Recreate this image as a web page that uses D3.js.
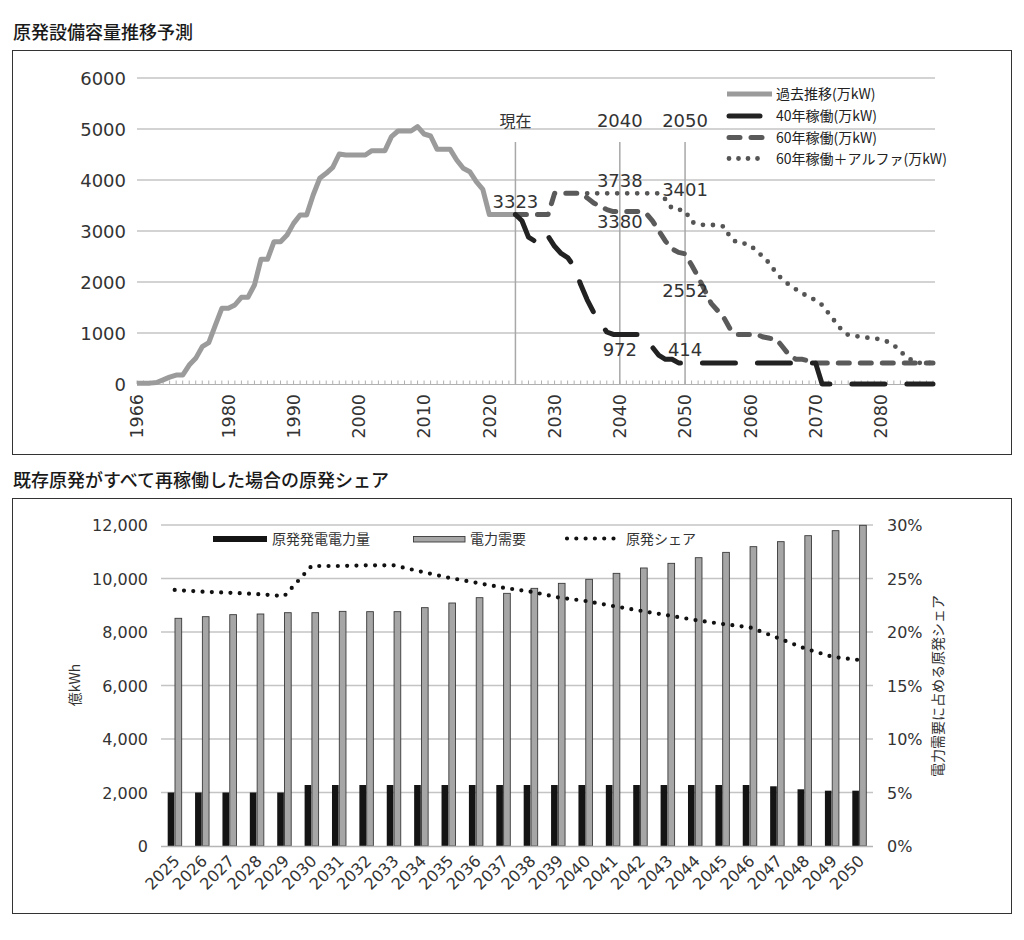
<!DOCTYPE html>
<html><head><meta charset="utf-8">
<script src="https://cdn.jsdelivr.net/npm/d3@7"></script>
<style>
body{margin:0;background:#fff;}
svg text{font-family:"DejaVu Sans","Noto Sans CJK JP",sans-serif;fill:#333;}
svg text.jp{font-family:"Noto Sans CJK JP",sans-serif;}
</style></head><body>
<svg id="c" width="1024" height="940"></svg>
<script>
// ===== Chart 1: 原発設備容量推移予測 =====
const title1 = "原発設備容量推移予測";
const histStart = 1966;
const histValues = [17,17,17,30,80,135,176,176,372,503,732,810,1150,1484,1484,1549,1699,1699,1941,2444,
  2444,2791,2791,2922,3150,3314,3314,3706,4033,4131,4248,4510,4490,4490,4490,4490,4575,4575,4575,4850,
  4961,4961,4961,5046,4902,4863,4601,4601,4601,4392,4229,4163,3967,3817,3323,3323,3323,3323,3323];
const y40Start = 2024;
const y40Values = [3323,3200,2880,2800,2720,2900,2700,2560,2480,2300,1950,1650,1400,1200,1020,972,972,972,972,972,
  896,720,560,484,484,414,414,414,414,414,414,414,414,414,414,414,414,414,414,414,
  414,414,414,414,414,414,414,0,0,0,0,0,0,0,0,0,0,0,0,0,0,0,0,0,0];
const y60Start = 2024;
const y60Values = [3323,3323,3323,3323,3323,3323,3738,3738,3738,3738,3738,3650,3550,3480,3420,3380,3380,3380,3380,3380,
  3350,3200,3000,2800,2650,2580,2552,2333,2104,1843,1582,1438,1288,1059,972,972,972,972,920,896,
  880,720,560,484,484,450,414,414,414,414,414,414,414,414,414,414,414,414,414,414,414,414,414,414,414];
const yAlphaStart = 2035;
const yAlphaValues = [3738,3738,3738,3738,3738,3738,3738,3738,3738,3738,3738,3738,3620,3440,3420,3401,3180,3130,3118,3118,
  3118,3085,2857,2771,2758,2725,2595,2497,2353,2170,2040,1941,1856,1778,1699,1647,1549,1386,1222,1059,
  961,941,928,908,896,876,830,765,634,536,438,414,414,414];
const yTicks1 = [0,1000,2000,3000,4000,5000,6000];
const xLabelYears1 = [1966,1980,1990,2000,2010,2020,2030,2040,2050,2060,2070,2080];
const markerYears = [2024,2040,2050];
const markerLabels = ["現在","2040","2050"];
const dataLabelText = ["3323","3738","3380","3401","2552","972","414"];
const dataLabelYear = [2024,2040,2040,2050,2050,2040,2050];
const dataLabelValue = [3323,3738,3380,3401,2552,972,414];
const legend1 = ["過去推移(万kW)","40年稼働(万kW)","60年稼働(万kW)","60年稼働＋アルファ(万kW)"];

// ===== Chart 2: 既存原発がすべて再稼働した場合の原発シェア =====
const title2 = "既存原発がすべて再稼働した場合の原発シェア";
const years2 = ["2025","2026","2027","2028","2029","2030","2031","2032","2033","2034","2035","2036","2037",
  "2038","2039","2040","2041","2042","2043","2044","2045","2046","2047","2048","2049","2050"];
const nuclearGen = [2000,2000,2000,2000,2000,2280,2280,2280,2280,2280,2280,2280,2280,
  2280,2280,2280,2280,2280,2280,2280,2280,2280,2232,2120,2068,2068];
const demand = [8512,8573,8648,8673,8722,8722,8772,8760,8760,8910,9084,9283,9445,
  9632,9819,9969,10193,10393,10567,10778,10977,11190,11377,11601,11788,11988];
const sharePct = [23.93,23.77,23.67,23.55,23.35,26.17,26.17,26.23,26.23,25.64,25.08,24.61,24.14,
  23.77,23.24,22.90,22.43,21.99,21.56,21.12,20.75,20.44,19.47,18.47,17.69,17.38];
const yTicks2 = [0,2000,4000,6000,8000,10000,12000];
const yTicksR = [0,5,10,15,20,25,30];
const legend2 = ["原発発電電力量","電力需要","原発シェア"];
const yTitleL = "億kWh";
const yTitleR = "電力需要に占める原発シェア";

const svg = d3.select("#c");
const toSeries = (start, vals) => vals.map((v,i)=>({year:start+i, v}));

// ---------- Chart 1 ----------
svg.append("text").attr("class","jp").attr("x",13).attr("y",39)
  .attr("font-size",18).attr("font-weight",500).style("fill","#1a1a1a").text(title1);
svg.append("rect").attr("x",12.5).attr("y",50.5).attr("width",999).attr("height",404)
  .attr("fill","none").attr("stroke","#333").attr("stroke-width",1);

const x1 = d3.scaleLinear().domain([1966,2088]).range([137,933]);
const y1 = d3.scaleLinear().domain([0,6000]).range([384,78]);
const g1 = svg.append("g");

g1.selectAll("line.grid").data(yTicks1.filter(d=>d>0)).join("line")
  .attr("x1",137).attr("x2",935).attr("y1",d=>y1(d)).attr("y2",d=>y1(d))
  .attr("stroke","#c4c4c4").attr("stroke-width",1.3);
g1.selectAll("text.yl").data(yTicks1).join("text")
  .attr("x",126).attr("y",d=>y1(d)+6.5).attr("text-anchor","end").attr("font-size",18)
  .text(d=>d);

// axis baseline + yearly minor ticks
g1.append("line").attr("x1",137).attr("x2",935).attr("y1",384.5).attr("y2",384.5)
  .attr("stroke","#b0b0b0").attr("stroke-width",1.2);
g1.selectAll("line.mt").data(d3.range(1966,2089)).join("line")
  .attr("x1",d=>x1(d)).attr("x2",d=>x1(d)).attr("y1",384).attr("y2",380.5)
  .attr("stroke","#b0b0b0").attr("stroke-width",1);
g1.selectAll("text.xl").data(xLabelYears1).join("text")
  .attr("transform",d=>`translate(${x1(d)+6.4},${394}) rotate(-90)`)
  .attr("text-anchor","end").attr("font-size",17.5).text(d=>d);

// marker lines
g1.selectAll("line.mk").data(markerYears).join("line")
  .attr("x1",d=>x1(d)).attr("x2",d=>x1(d)).attr("y1",142).attr("y2",384)
  .attr("stroke","#a8a8a8").attr("stroke-width",1.5);
g1.selectAll("text.mk").data(markerYears).join("text")
  .attr("class",(d,i)=>i===0?"jp":null)
  .attr("x",d=>x1(d)).attr("y",127).attr("text-anchor","middle")
  .attr("font-size",(d,i)=>i===0?16:18).text((d,i)=>markerLabels[i]);

const line1 = d3.line().x(d=>x1(d.year)).y(d=>y1(d.v));
g1.append("path").datum(toSeries(histStart,histValues)).attr("d",line1)
  .attr("fill","none").attr("stroke","#9b9b9b").attr("stroke-width",5).attr("stroke-linejoin","round");
g1.append("path").datum(toSeries(yAlphaStart,yAlphaValues)).attr("d",line1)
  .attr("fill","none").attr("stroke","#555").attr("stroke-width",4.8)
  .attr("stroke-linecap","round").attr("stroke-dasharray","0,10");
g1.append("path").datum(toSeries(y60Start,y60Values)).attr("d",line1)
  .attr("fill","none").attr("stroke","#5a5a5a").attr("stroke-width",5)
  .attr("stroke-linecap","round").attr("stroke-linejoin","round").attr("stroke-dasharray","11,11");
g1.append("path").datum(toSeries(y40Start,y40Values)).attr("d",line1)
  .attr("fill","none").attr("stroke","#222").attr("stroke-width",5)
  .attr("stroke-linecap","round").attr("stroke-linejoin","round").attr("stroke-dasharray","33,22");

// data labels
const labelDy = [-6.5,-6.4,16.4,-14.6,43,22,-6.4];
g1.selectAll("text.dl").data(dataLabelText).join("text")
  .attr("x",(d,i)=>x1(dataLabelYear[i])).attr("y",(d,i)=>y1(dataLabelValue[i])+labelDy[i])
  .attr("text-anchor","middle").attr("font-size",18).text(d=>d);

// legend 1
const lg1 = g1.append("g");
const legRowY = [94,116,137.5,158.5];
const legStyles = [
  {stroke:"#9b9b9b", dash:null, w:5, x2:772},
  {stroke:"#222", dash:"33,40", w:5, x2:760},
  {stroke:"#5a5a5a", dash:"11,11", w:5, x2:770},
  {stroke:"#555", dash:"0,9.5", w:4.8, x2:766}
];
legend1.forEach((t,i)=>{
  const s = legStyles[i];
  lg1.append("line").attr("x1",i===0?727:729).attr("x2",s.x2).attr("y1",legRowY[i]).attr("y2",legRowY[i])
    .attr("stroke",s.stroke).attr("stroke-width",s.w)
    .attr("stroke-linecap",i===0?"butt":"round").attr("stroke-dasharray",s.dash);
  lg1.append("text").attr("class","jp").attr("x",776).attr("y",legRowY[i]+5)
    .attr("font-size",14).style("fill","#222").text(t);
});

// ---------- Chart 2 ----------
svg.append("text").attr("class","jp").attr("x",13).attr("y",487)
  .attr("font-size",18).attr("font-weight",500).style("fill","#1a1a1a").text(title2);
svg.append("rect").attr("x",12.5).attr("y",498.5).attr("width",999).attr("height",415)
  .attr("fill","none").attr("stroke","#333").attr("stroke-width",1);

const xb = d3.scaleBand().domain(years2).range([161,873]);
const bw = xb.bandwidth();
const yb = d3.scaleLinear().domain([0,12000]).range([846,525]);
const yr = d3.scaleLinear().domain([0,30]).range([846,525]);
const g2 = svg.append("g");

g2.selectAll("line.grid").data(yTicks2.filter(d=>d>0)).join("line")
  .attr("x1",161).attr("x2",873).attr("y1",d=>yb(d)).attr("y2",d=>yb(d))
  .attr("stroke","#c4c4c4").attr("stroke-width",1.3);
g2.selectAll("text.yl").data(yTicks2).join("text")
  .attr("x",148).attr("y",d=>yb(d)+6).attr("text-anchor","end").attr("font-size",16)
  .text(d=>d3.format(",")(d));
g2.selectAll("text.yr").data(yTicksR).join("text")
  .attr("x",887).attr("y",d=>yr(d)+6).attr("text-anchor","start").attr("font-size",16)
  .text(d=>d+"%");

// bars
g2.selectAll("rect.nuc").data(nuclearGen).join("rect")
  .attr("x",(d,i)=>xb(years2[i])+bw*0.244).attr("width",bw*0.242)
  .attr("y",d=>yb(d)).attr("height",d=>yb(0)-yb(d)).attr("fill","#141414");
g2.selectAll("rect.dem").data(demand).join("rect")
  .attr("x",(d,i)=>xb(years2[i])+bw*0.511).attr("width",bw*0.244)
  .attr("y",d=>yb(d)).attr("height",d=>yb(0)-yb(d))
  .attr("fill","#a6a6a6").attr("stroke","#3a3a3a").attr("stroke-width",0.9);

g2.append("line").attr("x1",161).attr("x2",873).attr("y1",846.5).attr("y2",846.5)
  .attr("stroke","#b5b5b5").attr("stroke-width",1.3);

// share line
const line2 = d3.line().x((d,i)=>xb(years2[i])+bw/2).y(d=>yr(d));
g2.append("path").datum(sharePct).attr("d",line2).attr("fill","none")
  .attr("stroke","#111").attr("stroke-width",4.2).attr("stroke-linecap","round")
  .attr("stroke-dasharray","0,9.3");

// x labels
g2.selectAll("text.xl").data(years2).join("text")
  .attr("transform",d=>`translate(${xb(d)+bw/2+6},${862}) rotate(-45)`)
  .attr("text-anchor","end").attr("font-size",16).text(d=>d);

// axis titles
g2.append("text").attr("class","jp").attr("transform","translate(80,685) rotate(-90)")
  .attr("text-anchor","middle").attr("font-size",14).text(yTitleL);
g2.append("text").attr("class","jp").attr("transform","translate(943,686) rotate(-90)")
  .attr("text-anchor","middle").attr("font-size",14).text(yTitleR);

// legend 2
const lg2 = g2.append("g");
lg2.append("rect").attr("x",213).attr("y",536).attr("width",54).attr("height",6).attr("fill","#141414");
lg2.append("text").attr("class","jp").attr("x",272).attr("y",544).attr("font-size",14).text(legend2[0]);
lg2.append("rect").attr("x",413.5).attr("y",536.5).attr("width",51.5).attr("height",5.5)
  .attr("fill","#a6a6a6").attr("stroke","#3a3a3a").attr("stroke-width",0.9);
lg2.append("text").attr("class","jp").attr("x",470).attr("y",544).attr("font-size",14).text(legend2[1]);
lg2.append("line").attr("x1",567).attr("x2",615).attr("y1",538.5).attr("y2",538.5)
  .attr("stroke","#111").attr("stroke-width",4.2).attr("stroke-linecap","round").attr("stroke-dasharray","0,9.3");
lg2.append("text").attr("class","jp").attr("x",626).attr("y",544).attr("font-size",14).text(legend2[2]);
</script>
</body></html>
